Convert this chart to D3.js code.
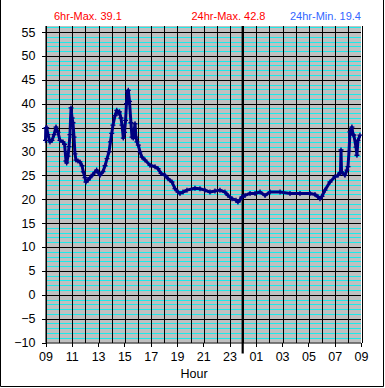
<!DOCTYPE html>
<meta charset="utf-8">
<head>
    <title>24hr Temperature</title>
</head>
<style>
    body {
        margin: 0;
        background-color: #ffffff;
        font-family: "Liberation Sans", Arial, sans-serif;
    }
    .axis text {
        font-size: 12.5px;
        fill: #000;
    }
    .axis path {
        display: none;
    }
    .axis line {
        stroke: #000;
        shape-rendering: crispEdges;
    }
    .grid line {
        shape-rendering: crispEdges;
    }
    .stat {
        font-size: 11px;
    }
</style>
<body>
<svg width="385" height="388"></svg>

<script src="https://d3js.org/d3.v7.min.js"></script>
<script>
    // hours since 09:00 and the reading at that time
    var hours = [0, 0.02, 0.09, 0.19, 0.34, 0.49, 0.65, 0.80, 0.95, 1.10,
        1.33, 1.45, 1.56, 1.61, 1.71, 1.79, 1.86, 1.94, 2.02, 2.09,
        2.17, 2.24, 2.32, 2.47, 2.62, 2.78, 2.88, 3.00, 3.08, 3.23,
        3.39, 3.61, 3.89, 4.03, 4.15, 4.37, 4.53, 4.68, 4.83, 4.94,
        5.04, 5.13, 5.29, 5.42, 5.52, 5.63, 5.74, 5.82, 5.92, 6.01,
        6.09, 6.16, 6.24, 6.30, 6.39, 6.50, 6.58, 6.68, 6.75, 6.81,
        6.88, 6.96, 7.06, 7.19, 7.34, 7.57, 7.95, 8.33, 8.56, 8.79,
        9.09, 9.32, 9.62, 9.85, 10.08, 10.23, 10.46, 10.76, 11.37, 11.75,
        12.13, 12.51, 12.89, 13.27, 13.65, 13.88, 14.19, 14.49, 14.64, 14.80,
        14.95, 15.18, 15.56, 15.94, 16.32, 16.70, 17.08, 17.84, 18.60, 19.36,
        20.12, 20.50, 20.73, 20.88, 21.03, 21.26, 21.64, 22.02, 22.25, 22.40,
        22.44, 22.48, 22.52, 22.78, 22.93, 23.01, 23.09, 23.16, 23.31, 23.39,
        23.46, 23.62, 23.69, 23.77, 23.92];
    var temps = [32.3, 34.9, 35.0, 33.5, 32.0, 32.3, 33.5, 35.1, 34.0, 32.3,
        32.0, 31.5, 28.0, 27.6, 29.0, 31.0, 33.5, 39.1, 37.0, 36.0,
        33.0, 29.5, 28.2, 28.0, 27.8, 27.0, 25.7, 24.5, 23.6, 24.0,
        24.5, 25.2, 26.1, 25.5, 25.0, 25.8, 27.0, 28.5, 29.9, 32.0,
        33.8, 35.5, 37.5, 38.6, 38.0, 38.3, 37.0, 35.5, 32.8, 34.0,
        36.5, 40.0, 42.5, 42.8, 40.5, 36.0, 33.0, 32.8, 34.5, 35.8,
        33.0, 32.0, 31.3, 29.9, 28.8, 28.2, 27.1, 26.8, 26.4, 25.4,
        25.0, 24.3, 23.6, 22.2, 21.5, 21.2, 21.5, 21.9, 22.3, 22.2,
        21.9, 21.5, 21.7, 21.9, 21.5, 20.8, 20.1, 19.8, 19.4, 19.9,
        20.5, 20.8, 21.2, 21.2, 21.5, 20.8, 21.5, 21.5, 21.2, 21.2,
        21.2, 21.0, 20.5, 20.1, 20.6, 21.9, 23.6, 24.7, 25.0, 25.5,
        25.6, 30.3, 25.7, 25.0, 26.1, 26.8, 30.0, 34.1, 35.1, 33.5,
        33.4, 30.9, 29.2, 32.3, 33.4];

    var yTicks = [-10, -5, 0, 5, 10, 15, 20, 25, 30, 35, 40, 45, 50, 55];
    var hourLabels = ["09", "11", "13", "15", "17", "19", "21", "23", "01", "03", "05", "07", "09"];
    var stats = [
        {text: "6hr-Max. 39.1", color: "#ff0000"},
        {text: "24hr-Max. 42.8", color: "#ff0000"},
        {text: "24hr-Min. 19.4", color: "#3366ff"}
    ];

    var svg = d3.select("svg"),
        margin = {top: 26, right: 24, bottom: 45.5, left: 45.5},
        width = +svg.attr("width") - margin.left - margin.right,
        height = +svg.attr("height") - margin.top - margin.bottom;

    var data = hours.map(function(h, i) { return {h: h, v: temps[i]}; });

    var x = d3.scaleLinear().domain([0, 24]).range([0, width]);
    var y = d3.scaleLinear().domain([-10, 56.26]).range([height, 0]);

    // frame round the whole picture
    svg.append("path")
        .attr("d", "M0.5,0 V386.5 H383.5 V0")
        .attr("fill", "none")
        .attr("stroke", "#000");

    var g = svg.append("g")
        .attr("transform", "translate(" + margin.left + "," + margin.top + ")");

    g.append("rect")
        .attr("width", width)
        .attr("height", height)
        .attr("fill", "#c0c0c0");

    // minor gridlines every degree
    g.append("g")
        .attr("class", "grid")
        .selectAll("line")
        .data(d3.range(-9, 57))
        .enter().append("line")
        .attr("x1", 0)
        .attr("x2", width)
        .attr("y1", function(d) { return Math.round(y(d)) + 0.5; })
        .attr("y2", function(d) { return Math.round(y(d)) + 0.5; })
        .attr("stroke", "#00f0f0")
        .attr("stroke-opacity", 0.85);

    // major gridlines
    g.append("g")
        .attr("class", "grid")
        .selectAll("line")
        .data(yTicks.slice(1))
        .enter().append("line")
        .attr("x1", 0)
        .attr("x2", width)
        .attr("y1", function(d) { return Math.round(y(d)) + 0.5; })
        .attr("y2", function(d) { return Math.round(y(d)) + 0.5; })
        .attr("stroke", "#000");

    g.append("g")
        .attr("class", "grid")
        .selectAll("line")
        .data(d3.range(0, 25))
        .enter().append("line")
        .attr("x1", function(d) { return Math.round(x(d)) + 0.5; })
        .attr("x2", function(d) { return Math.round(x(d)) + 0.5; })
        .attr("y1", 0)
        .attr("y2", height)
        .attr("stroke", "#000");

    // midnight marker
    g.append("line")
        .attr("x1", x(15))
        .attr("x2", x(15))
        .attr("y1", 0)
        .attr("y2", height + 11)
        .attr("stroke", "#000")
        .attr("stroke-width", 2.2);

    // axes
    g.append("g")
        .attr("class", "axis")
        .call(d3.axisLeft(y).tickValues(yTicks).tickSize(4).tickPadding(6));

    g.append("line")
        .attr("x1", 0.5).attr("x2", 0.5)
        .attr("y1", 0).attr("y2", height)
        .attr("stroke", "#000");

    g.append("g")
        .attr("class", "axis")
        .attr("transform", "translate(0," + height + ")")
        .call(d3.axisBottom(x)
            .tickValues(d3.range(0, 25, 2))
            .tickFormat(function(d, i) { return hourLabels[i]; })
            .tickSize(4)
            .tickPadding(6));

    g.append("line")
        .attr("x1", 0).attr("x2", width)
        .attr("y1", height + 0.5).attr("y2", height + 0.5)
        .attr("stroke", "#000");

    svg.append("text")
        .attr("x", 194)
        .attr("y", 378)
        .attr("text-anchor", "middle")
        .style("font-size", "12.5px")
        .text("Hour");

    // temperature trace
    var line = d3.line()
        .x(function(d) { return x(d.h); })
        .y(function(d) { return y(d.v); });

    g.append("path")
        .datum(data)
        .attr("fill", "none")
        .attr("stroke", "#000080")
        .attr("stroke-width", 3)
        .attr("stroke-linejoin", "round")
        .attr("d", line);

    g.append("g")
        .selectAll("path")
        .data(data)
        .enter().append("path")
        .attr("d", function(d) {
            var px = x(d.h), py = y(d.v);
            return "M" + (px - 2.5) + "," + py + "H" + (px + 2.5) + "M" + px + "," + (py - 2.5) + "V" + (py + 2.5);
        })
        .attr("stroke", "#000080")
        .attr("stroke-width", 1.3);

    // header stats
    svg.selectAll(".stat")
        .data(stats)
        .enter().append("text")
        .attr("class", "stat")
        .attr("x", function(d, i) { return [54, 191.5, 290][i]; })
        .attr("y", 19.5)
        .attr("fill", function(d) { return d.color; })
        .text(function(d) { return d.text; });
</script>
</body>
